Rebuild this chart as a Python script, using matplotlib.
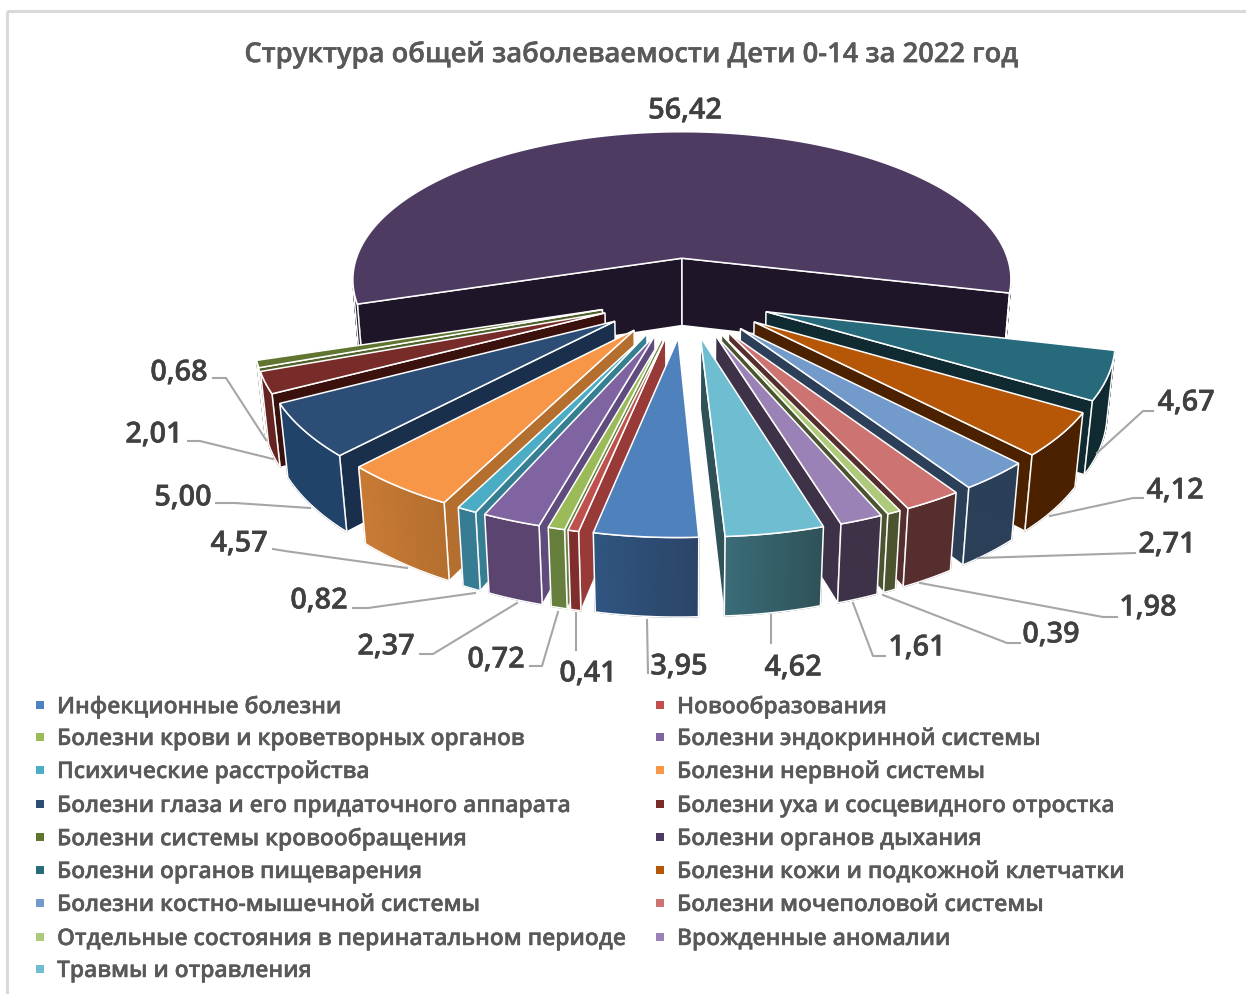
# Структура общей заболеваемости - объёмная разрезанная круговая диаграмма
import numpy as np
import matplotlib
matplotlib.use('Agg')
import matplotlib.pyplot as plt
import matplotlib.patheffects as pe
from matplotlib.patches import Polygon, Rectangle
from matplotlib.colors import to_rgb

categories = [
    'Инфекционные болезни', 'Новообразования',
    'Болезни крови и кроветворных органов', 'Болезни эндокринной системы',
    'Психические расстройства', 'Болезни нервной системы',
    'Болезни глаза и его придаточного аппарата', 'Болезни уха и сосцевидного отростка',
    'Болезни системы кровообращения', 'Болезни органов дыхания',
    'Болезни органов пищеварения', 'Болезни кожи и подкожной клетчатки',
    'Болезни костно-мышечной системы', 'Болезни мочеполовой системы',
    'Отдельные состояния в перинатальном периоде', 'Врожденные аномалии',
    'Травмы и отравления',
]
values = [3.95, 0.41, 0.72, 2.37, 0.82, 4.57, 5.00, 2.01, 0.68, 56.42,
          4.67, 4.12, 2.71, 1.98, 0.39, 1.61, 4.62]
top_colors = ['#4F81BD', '#C0504D', '#9BBB59', '#8064A2', '#4BACC6', '#F79646',
              '#2C4D75', '#772C2A', '#5F7530', '#4D3B62', '#276A7C', '#B65708',
              '#729ACA', '#CD7371', '#AFC97A', '#9A82B6', '#6FBDD1']
wall_left = ['#2F5580', '#7F2E2C', '#667F3C', '#5B4470', '#367C92', '#C97B35',
             '#21436A', '#642422', '#4F6128', '#1F1528', '#102A32', '#4B2100',
             '#2B3F58', '#562E2D', '#4A5530', '#3E3248', '#3A6B78']
wall_right = ['#2B4468', '#7F2E2C', '#667F3C', '#5B4470', '#367C92', '#B46E2E',
              '#21436A', '#642422', '#4F6128', '#1F1528', '#102A32', '#4B2100',
              '#2B3F58', '#562E2D', '#4A5530', '#3E3248', '#2F5258']
cut_colors = ['#2B4468', '#973A38', '#667F3C', '#5F4B7E', '#367F93', '#B46E2E',
              '#1A2F4B', '#3B110E', '#4F6128', '#1F1528', '#102A32', '#4B2100',
              '#2B3F58', '#562E2D', '#4A5530', '#3E3248', '#2F5258']

# подписи: центр текста и линия выноски (в пикселях картинки)
label_xy = [(679, 664), (588, 671), (496, 657), (386, 644), (319, 598), (239, 541),
            (183, 495), (154, 432), (179, 370), (685, 108),
            (1186, 400), (1175, 488), (1167, 542), (1148, 605), (1051, 632),
            (917, 645), (793, 665)]
leaders = [
    [(648, 673), (647, 620)], [(576, 650), (576, 613)],
    [(530, 666), (542, 666), (558, 612)], [(420, 654), (433, 654), (517, 603)],
    [(353, 608), (368, 608), (475, 593)], [(273, 549), (285, 551), (407, 568)],
    [(216, 503), (235, 503), (310, 508)], [(188, 441), (200, 441), (273, 459)],
    [(213, 378), (226, 378), (266, 440)], [],
    [(1153, 411), (1143, 411), (1097, 453)], [(1143, 498), (1133, 498), (1050, 516)],
    [(1135, 553), (978, 558)], [(1117, 617), (1103, 617), (920, 583)],
    [(1020, 643), (1007, 643), (883, 595)], [(885, 656), (873, 656), (853, 603)],
    [(771, 643), (771, 615)],
]

title = 'Структура общей заболеваемости Дети 0-14 за 2022 год'
legend_rows = [706, 738, 771, 805, 838, 871, 904, 938, 970]

# параметры камеры
CX, CY = 685, 296.5
F, K = 338.0, 156.0
SIN_EL = K / F
COS_EL = np.sqrt(1 - SIN_EL ** 2)
DIST = COS_EL / 0.15
FOCAL = F * DIST
EXPLODE = 0.255
THICK = 0.235
START = -3.0
# подгонка границ секторов в градусах, как на исходной картинке
boundary_nudge = [0, 0, 0, -0.3, -0.8, -1.0, -1.5, -1.0, -0.8, -0.8,
                  1.0, 1.0, 1.2, 1.5, 2.5, 3.0, 3.2, 0]

FONT = 'Open Sans'
TXT = '#595959'


def project(x, y, z):
    w = DIST + y * COS_EL - z * SIN_EL
    return CX + FOCAL * x / w, CY - FOCAL * (y * SIN_EL + z * COS_EL) / w


def direction(phi):
    # угол по часовой стрелке от нижней точки
    r = np.radians(phi)
    return -np.sin(r), -np.cos(r)


def bold(color, width=0.3):
    return [pe.withStroke(linewidth=width, foreground=color)]


cam = np.array([0, -DIST * COS_EL, DIST * SIN_EL])

fig = plt.figure(figsize=(12.46, 9.94), dpi=100)
ax = fig.add_axes([0, 0, 1, 1])
ax.set_xlim(0, 1246)
ax.set_ylim(994, 0)
ax.axis('off')

# рамка диаграммы
ax.add_patch(Rectangle((7, 11), 1300, 1100, fc='none', ec='#D9D9D9', lw=2.2))

total = sum(values)
angles = START + np.cumsum([0] + values) / total * 360 + np.array(boundary_nudge)

slices = []
for i in range(len(values)):
    a0, a1 = angles[i], angles[i + 1]
    ex, ey = direction((a0 + a1) / 2)
    slices.append((ey * (EXPLODE + 0.5), i, a0, a1, ex * EXPLODE, ey * EXPLODE))


def draw_face(pts3d, color, z):
    pts = [project(*p) for p in pts3d]
    ax.add_patch(Polygon(pts, closed=True, fc=color, ec='white', lw=1.1, joinstyle='miter', zorder=z))


z = 2
for _, i, a0, a1, ox, oy in sorted(slices, key=lambda s: -s[0]):
    phis = np.linspace(a0, a1, max(int((a1 - a0) * 2), 8))
    rim = [(ox + direction(p)[0], oy + direction(p)[1]) for p in phis]

    # боковые разрезы
    for phi, sign in ((a0, 1), (a1, -1)):
        dx, dy = direction(phi)
        normal = np.array([-dy, dx, 0]) * sign
        to_cam = cam - np.array([ox + dx / 2, oy + dy / 2, -THICK / 2])
        if normal @ to_cam > 0:
            draw_face([(ox, oy, 0), (ox + dx, oy + dy, 0), (ox + dx, oy + dy, -THICK), (ox, oy, -THICK)],
                      cut_colors[i], z)
            z += 1

    # внешняя стенка с градиентом, у большого сектора она из двух кусков
    runs = [[]]
    for p, (rx, ry) in zip(phis, rim):
        dx, dy = direction(p)
        if np.array([dx, dy, 0]) @ (cam - np.array([rx, ry, -THICK / 2])) > 0:
            runs[-1].append((rx, ry))
        elif runs[-1]:
            runs.append([])
    for visible in runs:
        if len(visible) < 2:
            continue
        c_l, c_r = np.array(to_rgb(wall_left[i])), np.array(to_rgb(wall_right[i]))
        xs = [project(rx, ry, 0)[0] for rx, ry in visible]
        lo, hi = min(xs), max(xs)
        for p0, p1 in zip(visible[:-1], visible[1:]):
            t = ((project(p0[0], p0[1], 0)[0] + project(p1[0], p1[1], 0)[0]) / 2 - lo) / max(hi - lo, 1)
            col = c_l + (c_r - c_l) * t
            quad = [project(p0[0], p0[1], 0), project(p1[0], p1[1], 0),
                    project(p1[0], p1[1], -THICK), project(p0[0], p0[1], -THICK)]
            ax.add_patch(Polygon(quad, closed=True, fc=col, ec=col, lw=0.9, zorder=z))
        z += 1
        outline = [project(rx, ry, 0) for rx, ry in visible] + \
                  [project(rx, ry, -THICK) for rx, ry in visible[::-1]]
        ax.add_patch(Polygon(outline, closed=True, fc='none', ec='white', lw=1.1, zorder=z))
        z += 1

    # верхняя грань
    draw_face([(ox, oy, 0)] + [(rx, ry, 0) for rx, ry in rim], top_colors[i], z)
    z += 1

# выноски и подписи значений
for val, (tx, ty), line in zip(values, label_xy, leaders):
    if line:
        xs, ys = zip(*line)
        ax.plot(xs, ys, color='#A6A6A6', lw=1.5, zorder=z, solid_joinstyle='round')
    ax.text(tx, ty + 3, f'{val:.2f}'.replace('.', ','), ha='center', va='center', fontsize=20.8,
            family=FONT, weight='semibold', color='#404040', zorder=z + 1, path_effects=bold('#404040'))

ax.text(632, 55, title, ha='center', va='center', fontsize=19.7, family=FONT,
        weight='semibold', color=TXT, path_effects=bold(TXT))

# легенда в две колонки
for k, (name, color) in enumerate(zip(categories, top_colors)):
    row = legend_rows[k // 2]
    left = k % 2 == 0
    mx, tx = (36, 57) if left else (656, 677)
    ax.add_patch(Rectangle((mx, row - 5), 8, 8, fc=color, ec='none'))
    ax.text(tx, row + 1, name, ha='left', va='center', fontsize=16.4, family=FONT,
            weight='semibold', color=TXT, path_effects=bold(TXT))

fig.savefig('out.png', dpi=100)
